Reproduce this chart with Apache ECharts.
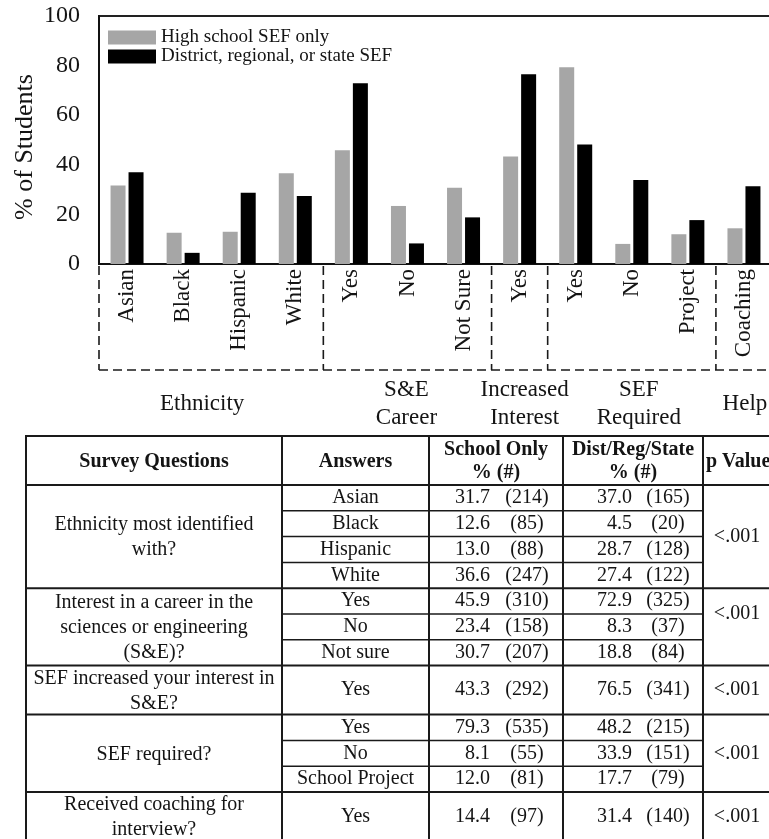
<!DOCTYPE html>
<html>
<head>
<meta charset="utf-8">
<script src="https://cdn.jsdelivr.net/npm/echarts@6/dist/echarts.min.js"></script>
<style>
html,body{margin:0;padding:0;background:#fff;}
#c{width:769px;height:839px;}
</style>
</head>
<body>
<div id="c"></div>
<script>
// ---------------- data ----------------
const categories = ['Asian','Black','Hispanic','White','Yes','No','Not Sure','Yes','Yes','No','Project','Coaching'];
const seriesNames = ['High school SEF only','District, regional, or state SEF'];
const schoolPct = [31.7,12.6,13.0,36.6,45.9,23.4,30.7,43.3,79.3,8.1,12.0,14.4];
const distPct   = [37.0,4.5,28.7,27.4,72.9,8.3,18.8,76.5,48.2,33.9,17.7,31.4];
const schoolCount = [214,85,88,247,310,158,207,292,535,55,81,97];
const distCount   = [165,20,128,122,325,37,84,341,215,151,79,140];
const groupNames = ['Ethnicity','S&E\nCareer','Increased\nInterest','SEF\nRequired','Help'];
const groupSizes = [4,3,1,3,1];
const questions = [
  'Ethnicity most identified\nwith?',
  'Interest in a career in the\nsciences or engineering\n(S&E)?',
  'SEF increased your interest in\nS&E?',
  'SEF required?',
  'Received coaching for\ninterview?'
];
const answers = ['Asian','Black','Hispanic','White','Yes','No','Not sure','Yes','Yes','No','School Project','Yes'];
const pValues = ['<.001','<.001','<.001','<.001','<.001'];
const pValueRows = [4,2,1,3,1];
const tableHeaders = ['Survey Questions','Answers','School Only\n% (#)','Dist/Reg/State\n% (#)','p Value'];
const yMin = 0, yMax = 100, yStep = 20;

// ---------------- style / layout ----------------
const FONT = "'Liberation Serif', 'Times New Roman', serif";
const INK = '#141414';
const GRAY = '#a6a6a6';

const chart = echarts.init(document.getElementById('c'));
chart.setOption({
  animation: false,
  backgroundColor: '#ffffff',
  textStyle: { fontFamily: FONT, color: INK },
  grid: {
    show: true, left: 99, top: 16, width: 673, height: 248,
    borderColor: '#222', borderWidth: 2, backgroundColor: 'rgba(0,0,0,0)',
    containLabel: false, outerBoundsMode: 'none'
  },
  legend: {
    orient: 'vertical', left: 103, top: 23,
    itemWidth: 48, itemHeight: 14, itemGap: 0, icon: 'rect',
    textStyle: { fontFamily: FONT, fontSize: 19, color: INK, lineHeight: 19 },
    data: seriesNames
  },
  xAxis: {
    type: 'category', data: categories,
    axisLine: { show: true, lineStyle: { color: '#111', width: 2 } },
    axisTick: { show: false },
    splitLine: { show: false },
    axisLabel: { interval: 0, rotate: 90, margin: 5, fontFamily: FONT, fontSize: 23, color: INK }
  },
  yAxis: {
    type: 'value', min: yMin, max: yMax, interval: yStep,
    name: '% of Students', nameLocation: 'middle', nameRotate: 90, nameGap: 61,
    nameMoveOverlap: false,
    nameTextStyle: { fontFamily: FONT, fontSize: 26, color: INK, padding: [0, 14, 0, 0] },
    axisLine: { show: true, lineStyle: { color: '#111', width: 2 } },
    axisTick: { show: false },
    splitLine: { show: false },
    axisLabel: { margin: 19, fontFamily: FONT, fontSize: 24, color: INK }
  },
  series: [
    { name: seriesNames[0], type: 'bar', data: schoolPct, barWidth: 15, barGap: '20%',
      itemStyle: { color: GRAY } },
    { name: seriesNames[1], type: 'bar', data: distPct, barWidth: 15, barGap: '20%',
      itemStyle: { color: '#000000' } }
  ]
});

// ---------- decorations: dashed group boxes, group labels, table ----------
const xOf = i => chart.convertToPixel({ xAxisIndex: 0 }, i);
const step = xOf(1) - xOf(0);
const y0 = chart.convertToPixel({ yAxisIndex: 0 }, 0);
const g = [];

function line(x1, y1, x2, y2, w, dash) {
  const st = { stroke: '#1a1a1a', lineWidth: w };
  if (dash) st.lineDash = dash;
  g.push({ type: 'line', silent: true, shape: { x1, y1, x2, y2 }, style: st });
}
function text(str, x, y, align, font, lh) {
  g.push({ type: 'text', silent: true, x, y, style: {
    text: str, font, fill: INK, align, verticalAlign: 'middle',
    textAlign: align, textVerticalAlign: 'middle', lineHeight: lh || 25 } });
}

// group boundaries from the axis
const bounds = [xOf(0) - step / 2];
let acc = 0;
groupSizes.forEach(s => { acc += s; bounds.push(xOf(acc - 1) + step / 2); });
const boxBottom = 370;
const dash = [9, 5];
bounds.forEach(b => line(b, y0 + 2, b, boxBottom, 1.6, dash));
line(bounds[0], boxBottom, bounds[bounds.length - 1], boxBottom, 1.6, dash);

const groupDx = [-9, -1, 5, 7, 1];
groupNames.forEach((nm, i) => {
  text(nm, (bounds[i] + bounds[i + 1]) / 2 + groupDx[i], 404, 'center', '23px ' + FONT, 28);
});

// table
const colX = [26, 282, 429, 563, 703, 773];
const tableTop = 436, headerH = 49, rowH = 25.8, textLine = 24.5;
const F = '20px ' + FONT, FB = 'bold 20px ' + FONT;
const headerMid = tableTop + headerH / 2 + 1;
tableHeaders.forEach((h, i) => {
  const cx = i === 4 ? colX[4] + 3 : (colX[i] + colX[i + 1]) / 2;
  text(h, cx, headerMid, i === 4 ? 'left' : 'center', FB, 23);
});
line(colX[0], tableTop, colX[5], tableTop, 2);
line(colX[0], tableTop + headerH, colX[5], tableTop + headerH, 2);

let y = tableTop + headerH;
let r = 0;
questions.forEach((q, gi) => {
  const n = groupSizes[gi];
  const nLines = q.split('\n').length;
  const gh = Math.max(n * rowH, Math.max(2, nLines) * textLine);
  const rh = gh / n;
  text(q, (colX[0] + colX[1]) / 2, y + gh / 2 + 1, 'center', F, 25);
  for (let k = 0; k < n; k++) {
    const mid = y + rh * k + rh / 2;
    text(answers[r], (colX[1] + colX[2]) / 2, mid, 'center', F);
    text(schoolPct[r].toFixed(1), colX[2] + 61, mid, 'right', F);
    text('(' + schoolCount[r] + ')', colX[2] + 98, mid, 'center', F);
    text(distPct[r].toFixed(1), colX[3] + 69, mid, 'right', F);
    text('(' + distCount[r] + ')', colX[3] + 105, mid, 'center', F);
    if (k > 0) line(colX[1], y + rh * k, colX[4], y + rh * k, 1.5);
    r++;
  }
  text(pValues[gi], (colX[4] + colX[5]) / 2 - 1, y + rh * pValueRows[gi] / 2, 'center', F);
  y += gh;
  line(colX[0], y, colX[5], y, 2);
});
colX.forEach(x => line(x, tableTop - 1, x, y + 1, 2));

chart.setOption({ graphic: { elements: g } });
</script>
</body>
</html>
